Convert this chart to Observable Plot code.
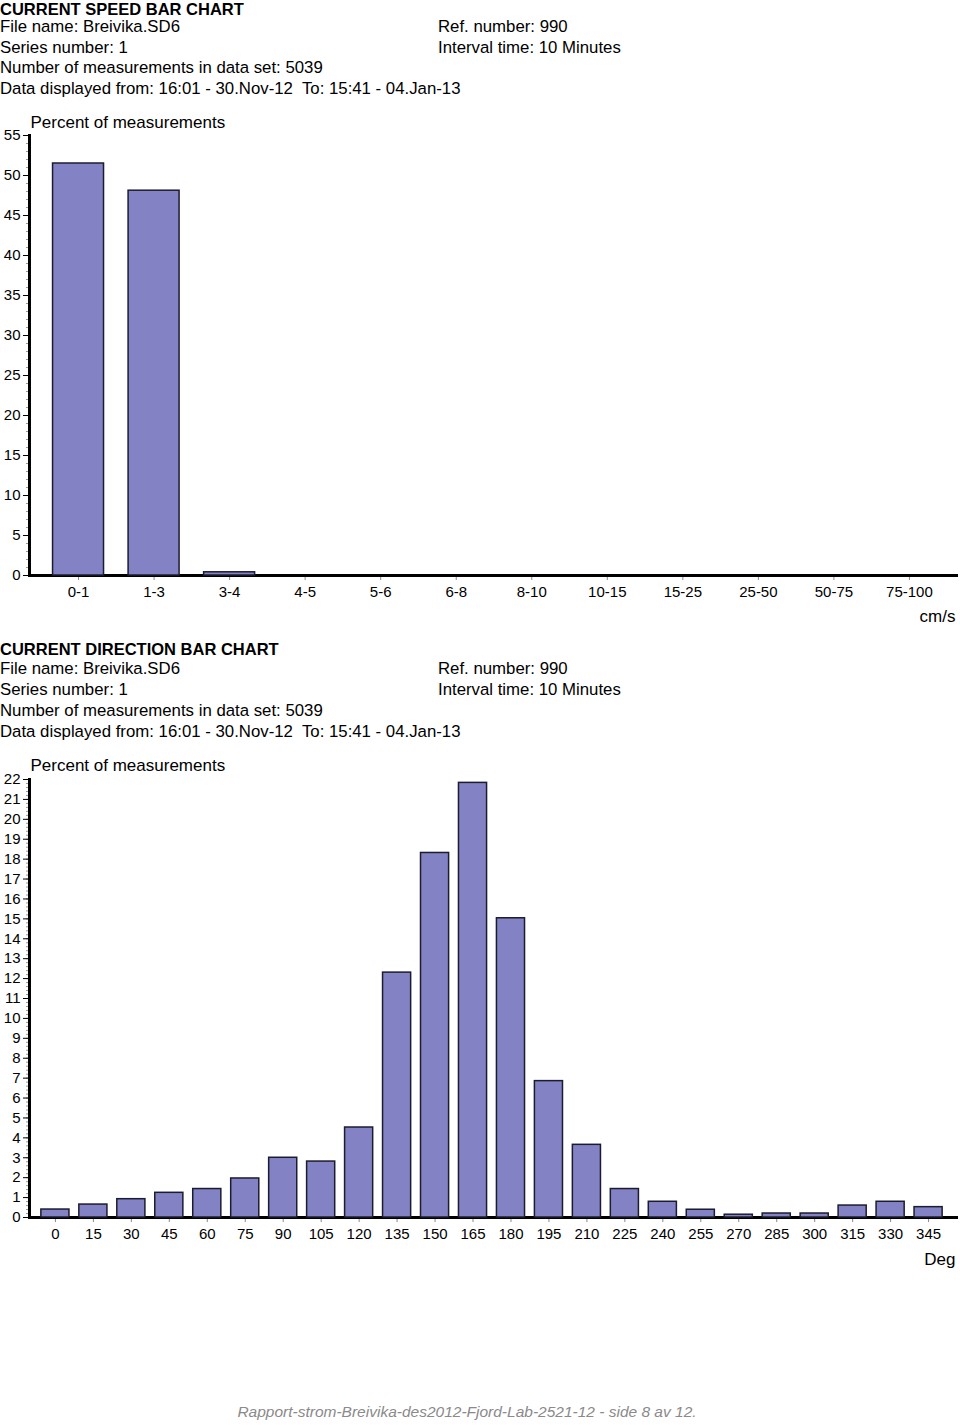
<!DOCTYPE html>
<html><head><meta charset="utf-8">
<script src="https://cdn.jsdelivr.net/npm/d3@7"></script>
<script src="https://cdn.jsdelivr.net/npm/@observablehq/plot@0.6"></script>
<style>
body{margin:0;background:#fff;font-family:"Liberation Sans",Arial,sans-serif;}
#page{position:relative;width:960px;height:1425px;overflow:hidden;}
.ln{position:absolute;font-size:16.8px;line-height:20px;height:20px;color:#000;white-space:pre;}
.ttl{font-weight:bold;font-size:16.5px;}
.chart{position:absolute;left:0;}
#footer{position:absolute;left:0;width:934px;top:1403px;text-align:center;font-size:15.5px;font-style:italic;color:#8a8a8a;}
</style></head>
<body><div id="page">
<div class="ln ttl" style="left:0;top:-1px">CURRENT SPEED BAR CHART</div>
<div class="ln" style="left:0;top:17px">File name: Breivika.SD6</div>
<div class="ln" style="left:438px;top:17px">Ref. number: 990</div>
<div class="ln" style="left:0;top:38px">Series number: 1</div>
<div class="ln" style="left:438px;top:38px">Interval time: 10 Minutes</div>
<div class="ln" style="left:0;top:58px">Number of measurements in data set: 5039</div>
<div class="ln" style="left:0;top:79px">Data displayed from: 16:01 - 30.Nov-12  To: 15:41 - 04.Jan-13</div>
<div class="chart" id="c1" style="top:100px"></div>
<div class="ln ttl" style="left:0;top:639px">CURRENT DIRECTION BAR CHART</div>
<div class="ln" style="left:0;top:659px">File name: Breivika.SD6</div>
<div class="ln" style="left:438px;top:659px">Ref. number: 990</div>
<div class="ln" style="left:0;top:680px">Series number: 1</div>
<div class="ln" style="left:438px;top:680px">Interval time: 10 Minutes</div>
<div class="ln" style="left:0;top:701px">Number of measurements in data set: 5039</div>
<div class="ln" style="left:0;top:722px">Data displayed from: 16:01 - 30.Nov-12  To: 15:41 - 04.Jan-13</div>
<div class="chart" id="c2" style="top:745px"></div>
<div id="footer">Rapport-strom-Breivika-des2012-Fjord-Lab-2521-12 - side 8 av 12.</div>
</div>
<script>
// Current speed classes (cm/s) and percent of measurements
const speedClasses = ["0-1","1-3","3-4","4-5","5-6","6-8","8-10","10-15","15-25","25-50","50-75","75-100"];
const speedPercent = [51.5, 48.1, 0.4, 0, 0, 0, 0, 0, 0, 0, 0, 0];
const speedMajorTicks = [0,5,10,15,20,25,30,35,40,45,50,55];
const speedMinorTicks = d3.range(0, 56, 1);

// Current direction classes (deg) and percent of measurements
const dirClasses = ["0","15","30","45","60","75","90","105","120","135","150","165","180","195","210","225","240","255","270","285","300","315","330","345"];
const dirPercent = [0.40, 0.65, 0.92, 1.24, 1.43, 1.96, 3.00, 2.81, 4.52, 12.30, 18.31, 21.83, 15.03, 6.85, 3.65, 1.43, 0.79, 0.39, 0.14, 0.20, 0.20, 0.60, 0.79, 0.52];
const dirMajorTicks = d3.range(0, 23, 1);
const dirMinorTicks = d3.range(0, 110, 1).map(d => d / 5);

const yLabel = "Percent of measurements";

function barChart(cats, vals, o) {
  const data = cats.map((c, i) => ({c, v: vals[i]}));
  return Plot.plot({
    width: 960, height: o.height,
    marginLeft: 29, marginRight: 2, marginTop: o.marginTop, marginBottom: o.marginBottom,
    style: {fontFamily: '"Liberation Sans",Arial,sans-serif', fontSize: "15px", background: "white", color: "black"},
    x: {domain: cats, padding: o.padding, insetLeft: o.insetLeft, insetRight: o.insetRight, round: false},
    y: {domain: [0, o.yMax]},
    marks: [
      Plot.axisY({ticks: o.minor, tickSize: 3, tickFormat: () => "", stroke: "#999", label: null}),
      Plot.axisY({ticks: o.major, tickSize: 6, tickPadding: 3, label: null, fontSize: 15}),
      Plot.axisX({tickSize: 5, tickPadding: 6, stroke: "#888", label: null, fontSize: 15}),
      Plot.ruleY([0], {strokeWidth: 3, stroke: "black"}),
      Plot.barY(data, {x: "c", y: "v", fill: "#8282c4", stroke: "#1c1c30", strokeWidth: 1.5}),
      Plot.frame({anchor: "left", strokeWidth: 3, stroke: "black"}),
      Plot.text([yLabel], {text: d => d, frameAnchor: "top-left", dx: 1, dy: o.labelDy, lineAnchor: "middle", textAnchor: "start", fontSize: 17}),
      Plot.text([o.unit], {text: d => d, frameAnchor: "bottom-right", dx: -3, dy: o.unitDy, lineAnchor: "middle", textAnchor: "end", fontSize: 17})
    ]
  });
}

document.getElementById("c1").append(barChart(speedClasses, speedPercent, {
  height: 530, marginTop: 35, marginBottom: 55, yMax: 55, padding: 0.325, insetLeft: -1, insetRight: -1,
  major: speedMajorTicks, minor: speedMinorTicks, unit: "cm/s", labelDy: -13, unitDy: 41
}));
document.getElementById("c2").append(barChart(dirClasses, dirPercent, {
  height: 530, marginTop: 34, marginBottom: 58, yMax: 22, padding: 0.26, insetLeft: 2, insetRight: 6,
  major: dirMajorTicks, minor: dirMinorTicks, unit: "Deg", labelDy: -14, unitDy: 42
}));
</script>
</body></html>
